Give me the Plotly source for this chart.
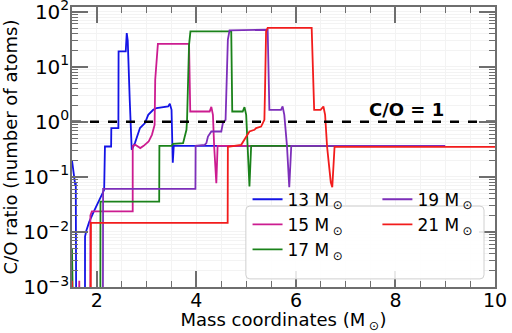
import plotly.graph_objects as go

# C/O number ratio profiles against mass coordinate for five progenitor masses.
# Values below the plotted floor (1e-3) are stored as 1e-4 so the lines leave the frame.

m13 = [1.50, 1.536, 1.566, 1.576, 1.586, 1.76, 1.762, 1.786, 1.846, 1.926, 2.006, 2.086, 2.146,
       2.162, 2.286, 2.29, 2.432, 2.436, 2.58, 2.60, 2.62, 2.66, 2.70, 2.766, 2.866, 2.966,
       3.032, 3.132, 3.20, 3.432, 3.466, 3.50, 3.515, 3.525, 3.545, 7.0]
co13 = [0.20, 0.11, 0.07, 0.078, 1e-4, 1e-4, 0.0082, 0.0104, 0.0152, 0.0222, 0.031, 0.045, 0.058,
        0.356, 0.356, 0.77, 0.77, 19.0, 19.0, 40.9, 30.0, 2.5, 0.31, 0.415, 0.77, 0.947,
        1.34, 1.65, 1.78, 1.90, 2.12, 1.65, 0.40, 0.18, 0.366, 0.366]

m15 = [1.63, 1.646, 1.66, 1.865, 1.87, 1.90, 2.72, 2.72, 2.772, 2.872, 2.94, 3.04, 3.106,
       3.16, 3.172, 3.226, 3.852, 3.876, 4.266, 4.30, 4.332, 4.356, 4.385, 4.40, 4.426, 7.5]
co15 = [1e-4, 0.0013, 1e-4, 1e-4, 0.020, 0.0237, 0.0237, 0.366, 0.382, 0.333, 0.366, 0.438, 0.58,
        0.88, 5.8, 26.0, 26.0, 1.54, 1.54, 1.87, 1.34, 0.366, 0.10, 0.077, 0.366, 0.366]

m17 = [1.50, 1.515, 1.53, 2.068, 2.072, 3.252, 3.256, 3.50, 3.532, 3.732, 3.766, 3.80, 3.812,
       3.832, 3.852, 3.88, 4.70, 4.72, 4.93, 4.966, 5.00, 5.032, 5.055, 5.066, 5.10, 8.0]
co17 = [0.005, 0.0012, 1e-4, 1e-4, 0.0356, 0.0356, 0.366, 0.366, 0.398, 0.41, 0.58, 0.716, 1.09,
        5.8, 25.0, 43.8, 43.8, 1.54, 1.54, 1.85, 1.34, 0.31, 0.09, 0.067, 0.366, 0.366]

m19 = [2.12, 2.125, 3.98, 3.984, 4.166, 4.20, 4.232, 4.266, 4.30, 4.50, 4.532, 4.586, 4.60,
       4.632, 4.666, 5.432, 5.466, 5.70, 5.732, 5.766, 5.82, 5.85, 5.866, 5.906, 9.0]
co19 = [1e-4, 0.0605, 0.0605, 0.366, 0.382, 0.41, 0.54, 0.62, 0.667, 0.667, 0.947, 1.087, 2.88,
        31.0, 45.7, 47.0, 1.65, 1.65, 1.90, 1.34, 0.366, 0.09, 0.065, 0.366, 0.366]

m21 = [1.50, 1.51, 1.52, 1.876, 1.88, 4.628, 4.632, 4.90, 5.00, 5.066, 5.166, 5.20, 5.30,
       5.332, 5.366, 5.38, 5.40, 5.432, 6.316, 6.366, 6.496, 6.552, 6.586, 6.626, 6.70, 6.73,
       6.776, 10.0]
co21 = [0.0013, 1e-4, 1e-4, 1e-4, 0.0146, 0.0146, 0.352, 0.382, 0.54, 0.667, 0.716, 0.77, 0.82,
        0.947, 1.087, 4.38, 43.8, 51.0, 51.0, 1.65, 1.65, 1.90, 1.34, 0.352, 0.08, 0.065,
        0.352, 0.352]

series = [
    ("13 M\u2009<sub>⊙</sub>", m13, co13, "#1414e6"),
    ("15 M\u2009<sub>⊙</sub>", m15, co15, "#cc1c90"),
    ("17 M\u2009<sub>⊙</sub>", m17, co17, "#1a821a"),
    ("19 M\u2009<sub>⊙</sub>", m19, co19, "#7d2fba"),
    ("21 M\u2009<sub>⊙</sub>", m21, co21, "#f21c1c"),
]

x_range = [1.5, 10.0]
y_range_log = [-3.0, 2.085]
unity_ratio = 1.0

y_major = [1e-3, 1e-2, 1e-1, 1e0, 1e1, 1e2]
y_major_text = ["10<sup>−3</sup>", "10<sup>−2</sup>", "10<sup>−1</sup>",
                "10<sup>0</sup>", "10<sup>1</sup>", "10<sup>2</sup>"]
y_minor = [k * 10.0 ** e for e in range(-3, 2) for k in range(2, 10)]

FONT = "DejaVu Sans"
AXIS_COL = "#6e6e6e"
GRID_COL = "#f3f3f3"

fig = go.Figure()

for i, (name, xs, ys, col) in enumerate(series):
    fig.add_trace(go.Scatter(
        x=xs, y=ys, mode="lines", name=name,
        line=dict(color=col, width=1.8),
        legend="legend" if i < 3 else "legend2",
    ))

# C/O = 1 reference line
fig.add_trace(go.Scatter(
    x=x_range, y=[unity_ratio, unity_ratio], mode="lines", showlegend=False,
    line=dict(color="black", width=2.6, dash="dash"), hoverinfo="skip",
))

fig.add_annotation(x=8.22, y=0.218, xref="x", yref="y", text="<b>C/O = 1</b>",
                   showarrow=False, font=dict(family=FONT, size=18, color="black"))

# rounded legend frame shared by both legend columns
x0, x1 = 0.411, 0.974
y0, y1 = 0.029, 0.289
rx, ry = 4 / 423, 4 / 280
path = (f"M {x0+rx},{y0} L {x1-rx},{y0} Q {x1},{y0} {x1},{y0+ry} "
        f"L {x1},{y1-ry} Q {x1},{y1} {x1-rx},{y1} L {x0+rx},{y1} "
        f"Q {x0},{y1} {x0},{y1-ry} L {x0},{y0+ry} Q {x0},{y0} {x0+rx},{y0} Z")
fig.add_shape(type="path", path=path, xref="paper", yref="paper",
              line=dict(color="#d0d0d0", width=1), fillcolor="rgba(255,255,255,0.85)",
              layer="above")

legend_common = dict(
    bgcolor="rgba(0,0,0,0)", borderwidth=0,
    font=dict(family=FONT, size=17, color="black"),
    tracegroupgap=0, itemwidth=30, yanchor="top", xanchor="left",
)

fig.update_layout(
    width=512, height=333,
    margin=dict(l=72, r=17, t=7, b=46, autoexpand=False),
    paper_bgcolor="white", plot_bgcolor="white",
    font=dict(family=FONT, size=18, color="black"),
    legend=dict(x=0.415, y=0.376, **legend_common),
    legend2=dict(x=0.722, y=0.376, **legend_common),
    xaxis=dict(
        range=x_range, tickmode="array", tickvals=[2, 4, 6, 8, 10],
        ticks="inside", ticklen=16, tickwidth=1.5, tickcolor=AXIS_COL,
        showline=True, linecolor=AXIS_COL, linewidth=1.5, mirror="allticks",
        showgrid=True, gridcolor=GRID_COL, gridwidth=1, zeroline=False,
        tickfont=dict(family=FONT, size=19), automargin=False,
        ticklabelstandoff=-5, ticklabeloverflow="allow",
        minor=dict(dtick=0.5, tick0=0, ticks="inside", ticklen=6, tickwidth=1.2,
                   tickcolor=AXIS_COL, showgrid=True, gridcolor=GRID_COL),
        title=dict(text="Mass coordinates (M\u2009<sub>⊙</sub>)", standoff=0,
                   font=dict(family=FONT, size=18)),
    ),
    yaxis=dict(
        type="log", range=y_range_log, tickmode="array",
        tickvals=y_major, ticktext=y_major_text,
        ticks="inside", ticklen=16, tickwidth=1.5, tickcolor=AXIS_COL,
        showline=True, linecolor=AXIS_COL, linewidth=1.5, mirror="allticks",
        showgrid=True, gridcolor=GRID_COL, gridwidth=1, zeroline=False,
        tickfont=dict(family=FONT, size=20), automargin=False,
        ticklabelstandoff=-3, ticklabeloverflow="allow",
        minor=dict(tickmode="array", tickvals=y_minor, ticks="inside", ticklen=6,
                   tickwidth=1.2, tickcolor=AXIS_COL, showgrid=True, gridcolor=GRID_COL),
        title=dict(text="C/O ratio (number of atoms)", standoff=4,
                   font=dict(family=FONT, size=18)),
    ),
)

fig.write_html("out.html")
